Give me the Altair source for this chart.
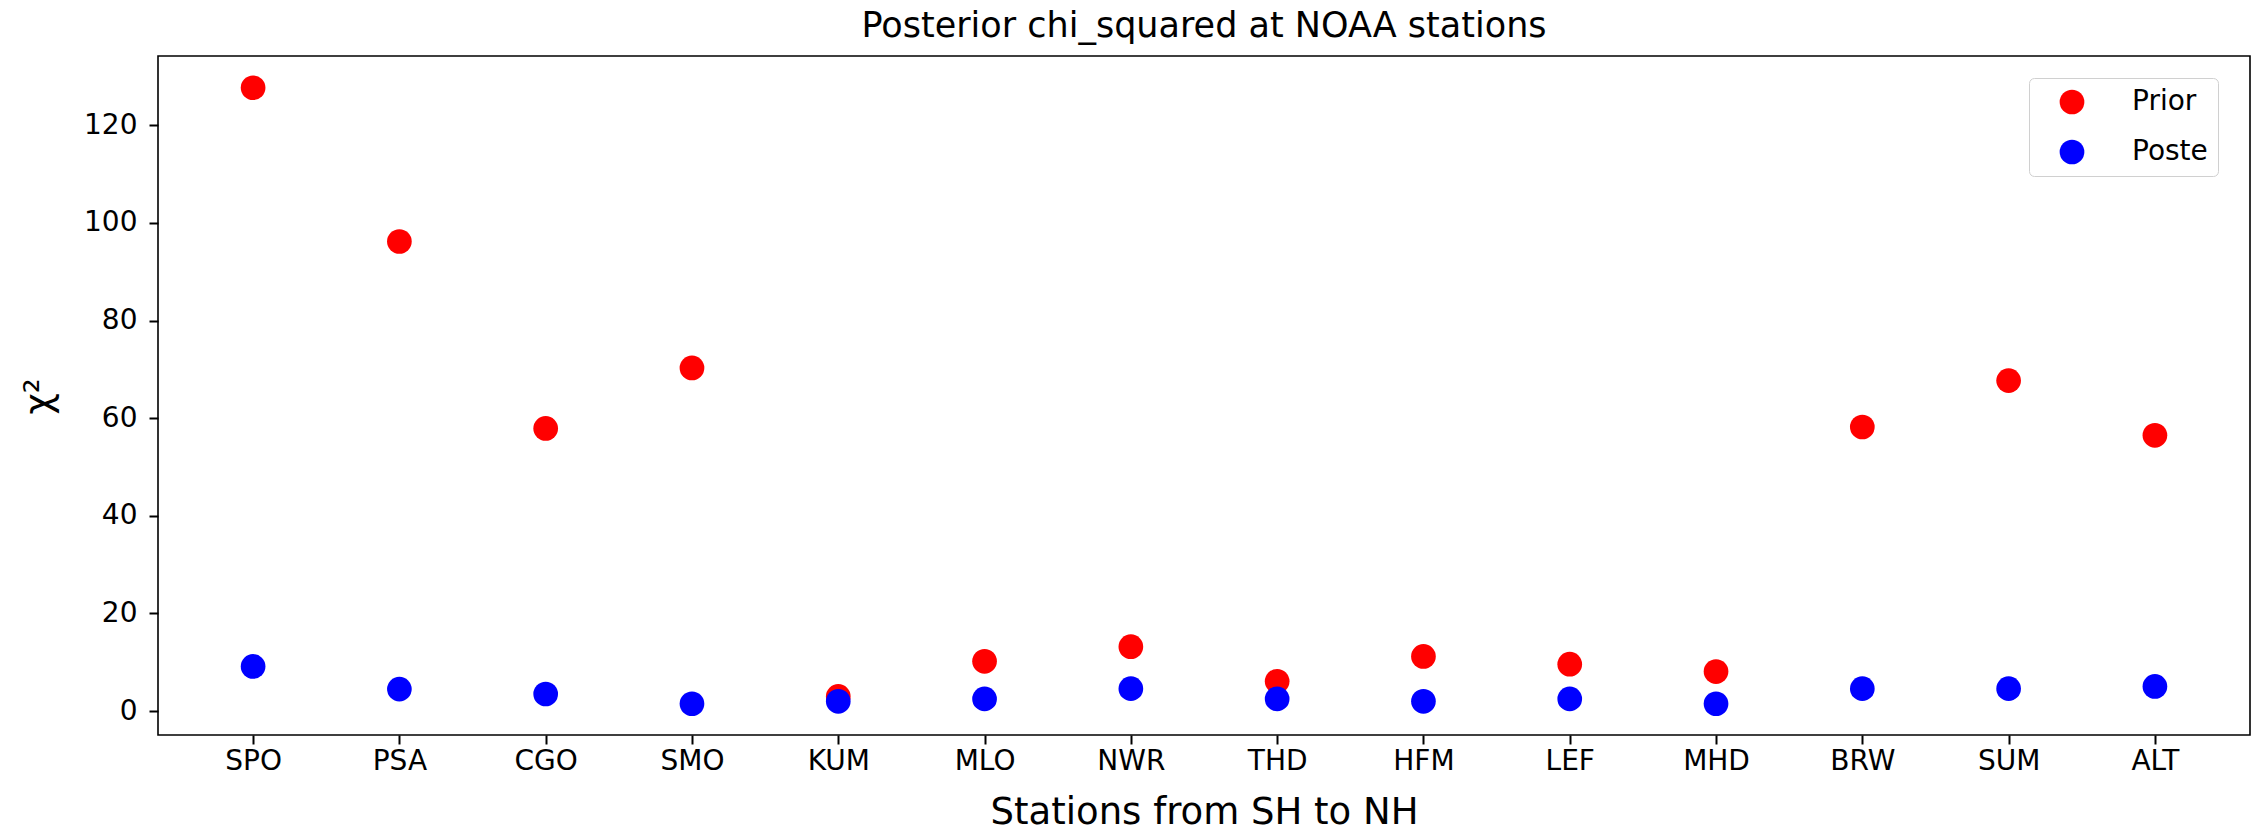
import altair as alt
import pandas as pd

stations = ["SPO", "PSA", "CGO", "SMO", "KUM", "MLO", "NWR",
            "THD", "HFM", "LEF", "MHD", "BRW", "SUM", "ALT"]
prior = [127.7, 96.2, 57.9, 70.3, 3.0, 10.2, 13.2, 6.1, 11.2, 9.6, 8.1, 58.2, 67.7, 56.5]
poste = [9.15, 4.5, 3.5, 1.5, 2.0, 2.5, 4.6, 2.5, 2.0, 2.5, 1.5, 4.6, 4.6, 5.05]
series_names = ["Prior", "Poste"]
y_ticks = [0, 20, 40, 60, 80, 100, 120]

df = pd.DataFrame({
    "station": stations + stations,
    "chi2": prior + poste,
    "series": [series_names[0]] * len(stations) + [series_names[1]] * len(stations),
})

FONT = "DejaVu Sans"

chart = alt.Chart(df).mark_circle(size=610, opacity=1).encode(
    x=alt.X("station:N", sort=stations,
            scale=alt.Scale(type="point", padding=0.65),
            axis=alt.Axis(title="Stations from SH to NH", labelAngle=0,
                          labelFontSize=28, labelPadding=3, tickSize=9,
                          titleFontSize=37, titleY=88, titleBaseline="alphabetic",
                          titleFontWeight="normal")),
    y=alt.Y("chi2:Q",
            scale=alt.Scale(domain=[-4.9, 134.2], nice=False, zero=False),
            axis=alt.Axis(title="χ²", values=y_ticks, grid=False,
                          labelFontSize=28, labelPadding=12, tickSize=9,
                          titleFontSize=37, titleX=-108, titleY=340,
                          titleBaseline="alphabetic", titleAlign="center",
                          titleFontWeight="normal")),
    color=alt.Color("series:N",
                    scale=alt.Scale(domain=series_names, range=["#ff0000", "#0000ff"]),
                    legend=alt.Legend(title=None, orient="none", legendX=1871, legendY=22,
                                      symbolType="circle", symbolSize=610,
                                      labelFontSize=28, labelFont=FONT, labelColor="#000000",
                                      labelExpr="datum.label + '\u00a0\u00a0\u00a0'",
                                      padding=10, rowPadding=22, labelOffset=46,
                                      symbolOffset=19, strokeColor="#d0d0d0",
                                      fillColor="#ffffff", cornerRadius=5,
                                      symbolStrokeWidth=0, symbolOpacity=1)),
).properties(
    width=2092,
    height=679,
    title=alt.TitleParams("Posterior chi_squared at NOAA stations", fontSize=35,
                          fontWeight="normal", font=FONT, color="#000000",
                          anchor="middle", baseline="alphabetic", offset=-16),
    padding={"left": 158, "top": 56, "right": 7, "bottom": 96},
    autosize=alt.AutoSizeParams(type="none"),
).configure(
    font=FONT,
    background="#ffffff",
).configure_view(
    stroke="#000000", strokeWidth=1.6,
).configure_axis(
    domain=False, tickColor="#000000", tickWidth=2, labelColor="#000000",
    titleColor="#000000", labelFont=FONT, titleFont=FONT,
)

chart.save("out.html", embed_options={"renderer": "svg", "actions": False})
